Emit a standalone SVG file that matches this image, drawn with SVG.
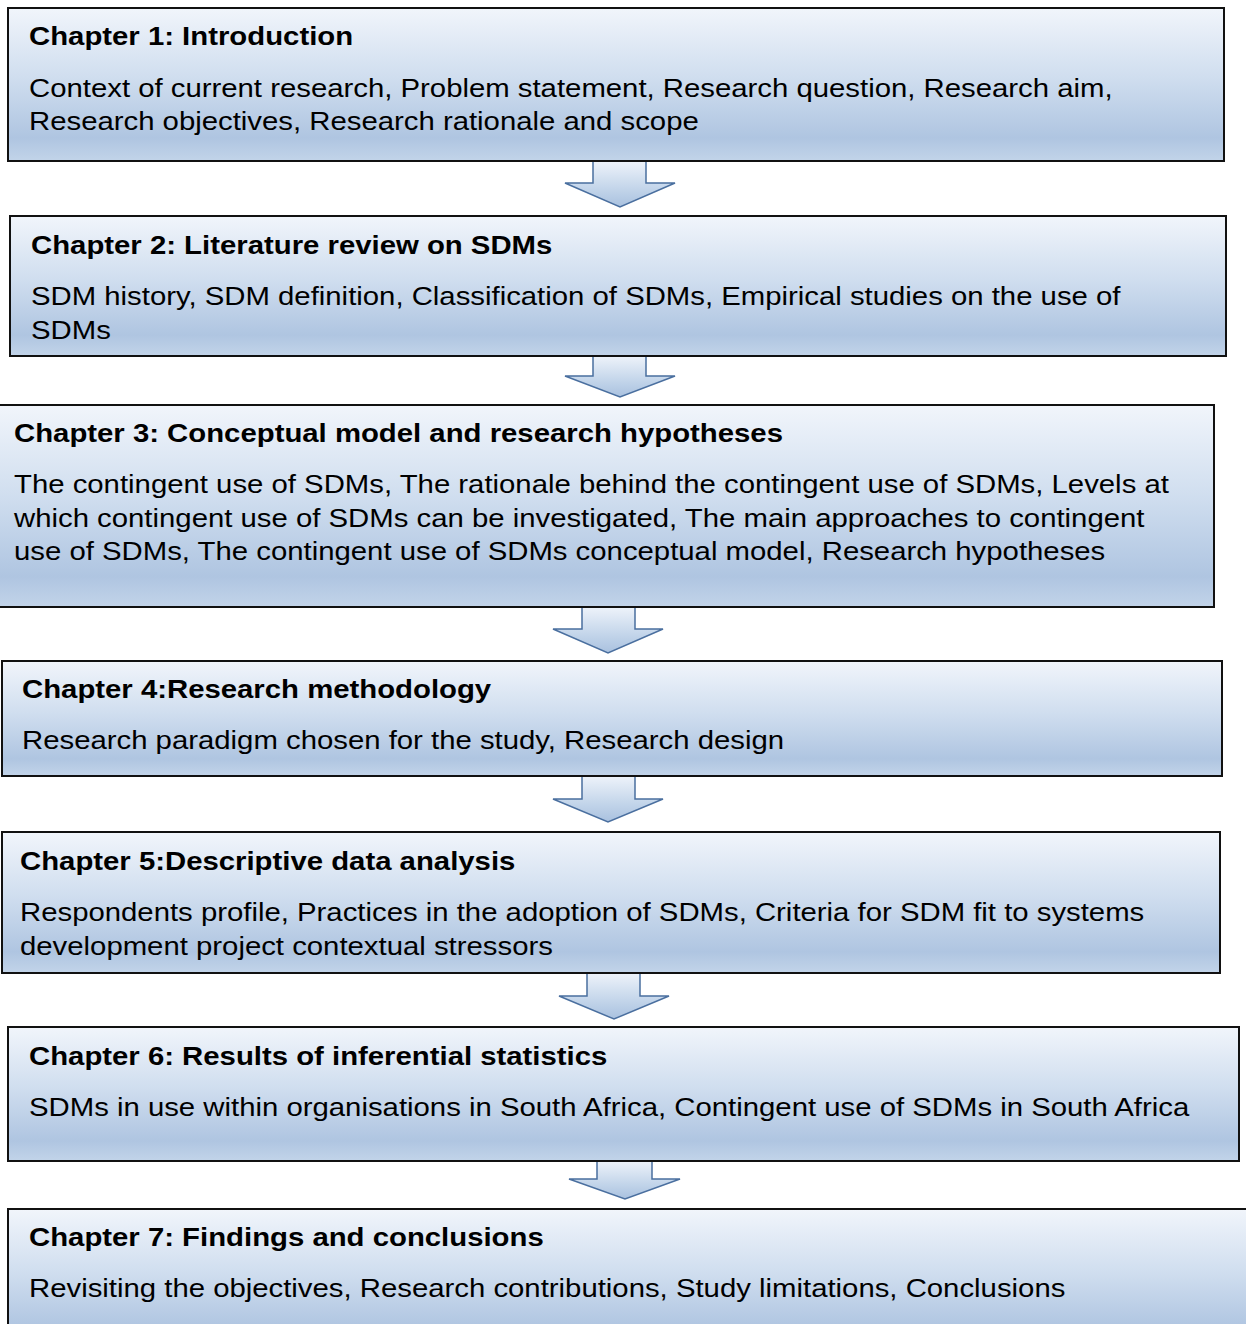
<svg xmlns="http://www.w3.org/2000/svg" width="1246" height="1324" viewBox="0 0 1246 1324">
  <defs>
    <linearGradient id="fill" x1="0" y1="0" x2="0" y2="1">
      <stop offset="0" stop-color="#f1f5fb"/>
      <stop offset="0.45" stop-color="#d0deef"/>
      <stop offset="0.85" stop-color="#afc5e1"/>
      <stop offset="1" stop-color="#c2d4e9"/>
    </linearGradient>
    <linearGradient id="arrowFill" x1="0" y1="0" x2="0" y2="1">
      <stop offset="0" stop-color="#eef3fa"/>
      <stop offset="0.6" stop-color="#c3d5ea"/>
      <stop offset="1" stop-color="#a9c1df"/>
    </linearGradient>
    <style>
      .box { fill: url(#fill); stroke: #111; stroke-width: 2; }
      .arrow { fill: url(#arrowFill); stroke: #4a6f9f; stroke-width: 1.5; stroke-linejoin: miter; }
      .title { font-family: "Liberation Sans", Arial, sans-serif; font-size: 26px; font-weight: bold; fill: #000; }
      .body { font-family: "Liberation Sans", Arial, sans-serif; font-size: 26px; fill: #000; }
    </style>
  </defs>
  <rect width="1246" height="1324" fill="#fff"/>

  <g id="connectors">
    <path class="arrow" d="M593,161 L646,161 L646,183 L675,183 L620,207 L565,183 L593,183 Z"/>
    <path class="arrow" d="M593,356 L646,356 L646,376 L675,376 L620,397 L565,376 L593,376 Z"/>
    <path class="arrow" d="M582,607 L635,607 L635,629 L663,629 L608,653 L553,629 L582,629 Z"/>
    <path class="arrow" d="M582,776 L635,776 L635,799 L663,799 L608,822 L553,799 L582,799 Z"/>
    <path class="arrow" d="M587,973 L640,973 L640,996 L669,996 L614,1019 L559,996 L587,996 Z"/>
    <path class="arrow" d="M597,1161 L652,1161 L652,1179 L680,1179 L625,1199 L569,1179 L597,1179 Z"/>
  </g>

  <!-- text runs are widened horizontally to the original layout -->
  <g id="chapter1">
    <rect class="box" x="8" y="8" width="1216" height="153"/>
    <g transform="translate(29 0) scale(1.128 1)">
      <text class="title" x="0" y="45">Chapter 1: Introduction</text>
      <text class="body" x="0" y="97">Context of current research, Problem statement, Research question, Research aim,</text>
      <text class="body" x="0" y="130">Research objectives, Research rationale and scope</text>
    </g>
  </g>

  <g id="chapter2">
    <rect class="box" x="10" y="216" width="1216" height="140"/>
    <g transform="translate(31 0) scale(1.128 1)">
      <text class="title" x="0" y="254">Chapter 2: Literature review on SDMs</text>
      <text class="body" x="0" y="305">SDM history, SDM definition, Classification of SDMs, Empirical studies on the use of</text>
      <text class="body" x="0" y="339">SDMs</text>
    </g>
  </g>

  <g id="chapter3">
    <rect class="box" x="-2" y="405" width="1216" height="202"/>
    <g transform="translate(14 0) scale(1.128 1)">
      <text class="title" x="0" y="442">Chapter 3: Conceptual model and research hypotheses</text>
      <text class="body" x="0" y="493">The contingent use of SDMs, The rationale behind the contingent use of SDMs, Levels at</text>
      <text class="body" x="0" y="527">which contingent use of SDMs can be investigated, The main approaches to contingent</text>
      <text class="body" x="0" y="560">use of SDMs, The contingent use of SDMs conceptual model, Research hypotheses</text>
    </g>
  </g>

  <g id="chapter4">
    <rect class="box" x="2" y="661" width="1220" height="115"/>
    <g transform="translate(22 0) scale(1.128 1)">
      <text class="title" x="0" y="698">Chapter 4:Research methodology</text>
      <text class="body" x="0" y="749">Research paradigm chosen for the study, Research design</text>
    </g>
  </g>

  <g id="chapter5">
    <rect class="box" x="2" y="832" width="1218" height="141"/>
    <g transform="translate(20 0) scale(1.128 1)">
      <text class="title" x="0" y="870">Chapter 5:Descriptive data analysis</text>
      <text class="body" x="0" y="921">Respondents profile, Practices in the adoption of SDMs, Criteria for SDM fit to systems</text>
      <text class="body" x="0" y="955">development project contextual stressors</text>
    </g>
  </g>

  <g id="chapter6">
    <rect class="box" x="8" y="1027" width="1231" height="134"/>
    <g transform="translate(29 0) scale(1.128 1)">
      <text class="title" x="0" y="1065">Chapter 6: Results of inferential statistics</text>
      <text class="body" x="0" y="1116">SDMs in use within organisations in South Africa, Contingent use of SDMs in South Africa</text>
    </g>
  </g>

  <g id="chapter7">
    <rect class="box" x="8" y="1209" width="1250" height="140"/>
    <g transform="translate(29 0) scale(1.128 1)">
      <text class="title" x="0" y="1246">Chapter 7: Findings and conclusions</text>
      <text class="body" x="0" y="1297">Revisiting the objectives, Research contributions, Study limitations, Conclusions</text>
    </g>
  </g>
</svg>
